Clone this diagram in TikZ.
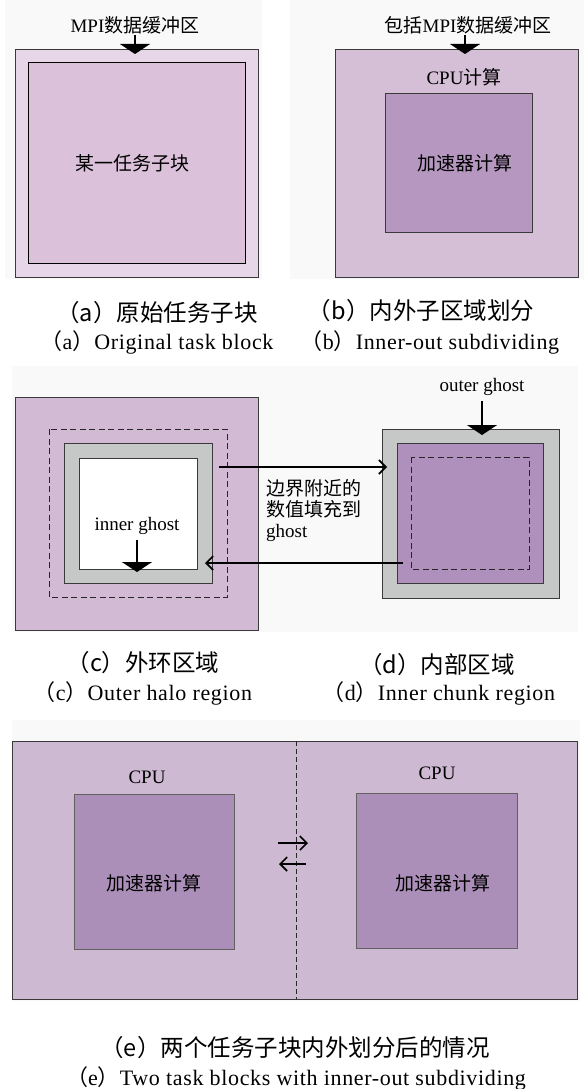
\documentclass[tikz,border=0pt]{standalone}
\usepackage{fontspec}
\setmainfont{Liberation Serif}
\newfontfamily\capfont[LetterSpace=3]{Liberation Serif}
\newfontfamily\cjk{Noto Sans CJK SC}
\usetikzlibrary{arrows.meta}
\definecolor{bgc}{HTML}{F9F9F9}
\definecolor{bordc}{HTML}{3A3A3A}
\definecolor{aout}{HTML}{E7D6E7}
\definecolor{ain}{HTML}{DCC1DA}
\definecolor{bout}{HTML}{D5BFD7}
\definecolor{bin}{HTML}{B597C0}
\definecolor{cout}{HTML}{D2BAD5}
\definecolor{ghostg}{HTML}{C6C8C7}
\definecolor{dmid}{HTML}{AF8FBB}
\definecolor{eout}{HTML}{CEB9D2}
\definecolor{ein}{HTML}{AC8FB9}
\newcommand{\zh}[1]{{\cjk #1}}
\begin{document}
\begin{tikzpicture}[x=1pt,y=-1pt,
  box/.style={draw=bordc, line width=1.3pt, inner sep=0pt, anchor=north west},
  lbl/.style={font=\fontsize{19}{21}\selectfont, inner sep=0pt},
  captxt/.style={font=\fontsize{23.5}{25}\selectfont, inner sep=0pt},
  capen/.style={font=\fontsize{22}{24}\selectfont\capfont, inner sep=0pt},
  fat/.style={line width=1.6pt, -{Triangle[width=30pt,length=10pt]}},
  harrow/.style={line width=1.6pt, -{Straight Barb[length=7pt,width=14pt]}},
  dsh/.style={draw=black!85, line width=1pt, dash pattern=on 6pt off 3.5pt}]
\useasboundingbox (0,0) rectangle (586,1089);
\fill[white] (0,0) rectangle (586,1089);
% backgrounds
\fill[bgc] (5,0) rectangle (262,279);
\fill[bgc] (290,0) rectangle (584,279);
\fill[bgc] (12,366) rectangle (578,632);
\fill[bgc] (12,720) rectangle (580,1001);

% ---------- panel (a)
\node[box, fill=aout, minimum width=243pt, minimum height=228pt] (aOuter) at (15,49) {};
\node[box, draw=black, fill=ain, minimum width=217pt, minimum height=201pt] (aInner) at (28,62) {};
\node[lbl] (aMPI) at (135,25) {MPI\zh{数据缓冲区}};
\node[lbl] (aTask) at (132,163) {\zh{某一任务子块}};
\coordinate (aS) at (135,35);
\coordinate (aT) at (135,54);
\draw[fat] (aS) -- (aT);

% ---------- panel (b)
\node[box, fill=bout, minimum width=243pt, minimum height=228pt] (bOuter) at (335,49) {};
\node[box, fill=bin, minimum width=147pt, minimum height=139pt] (bInner) at (385,93) {};
\node[lbl] (bMPI) at (468,25) {\zh{包括}MPI\zh{数据缓冲区}};
\node[lbl] (bCPU) at (464,77) {CPU\zh{计算}};
\node[lbl] (bAcc) at (465,163) {\zh{加速器计算}};
\coordinate (bS) at (465,35);
\coordinate (bT) at (465,54);
\draw[fat] (bS) -- (bT);

% captions a/b
\node[captxt] (capAzh) at (157,313) {\zh{（a）原始任务子块}};
\node[captxt] (capBzh) at (421,311) {\zh{（b）内外子区域划分}};
\node[capen] (capAen) at (157,342) {\zh{（}a\zh{）}Original task block};
\node[capen] (capBen) at (430,342) {\zh{（}b\zh{）}Inner-out subdividing};

% ---------- panel (c)
\node[box, fill=cout, minimum width=243pt, minimum height=233pt] (cOuter) at (15,397) {};
\draw[dsh] (49,429) rectangle (227,597);
\node[box, fill=ghostg, minimum width=148pt, minimum height=140pt] (cGhost) at (64,443) {};
\node[box, fill=white, minimum width=118pt, minimum height=111pt] (cInner) at (79,458) {};
\node[lbl] (cInG) at (137,526) {inner ghost};
\coordinate (cS) at (137,540);
\coordinate (cT) at (137,572);
\draw[fat] (cS) -- (cT);

% ---------- panel (d)
\node[box, fill=ghostg, minimum width=177pt, minimum height=169pt] (dGhost) at (382,429) {};
\node[box, fill=dmid, minimum width=146pt, minimum height=140pt] (dInner) at (397,443) {};
\draw[dsh] (411,457) rectangle (529,569);
\node[lbl] (dOutG) at (482,387) {outer ghost};
\coordinate (dS) at (482,401);
\coordinate (dT) at (482,435);
\draw[fat] (dS) -- (dT);

% exchange arrows c <-> d
\coordinate (r1) at (219,467);
\coordinate (r2) at (387,467);
\coordinate (l1) at (403,563);
\coordinate (l2) at (205,563);
\draw[harrow] (r1) -- (r2);
\draw[harrow] (l1) -- (l2);
\node[lbl, anchor=west, align=left] (fillTxt) at (266,511)
  {\zh{边界附近的}\\\zh{数值填充到}\\ghost};

% captions c/d
\node[captxt] (capCzh) at (143,663) {\zh{（c）外环区域}};
\node[captxt] (capDzh) at (437,665) {\zh{（d）内部区域}};
\node[capen] (capCen) at (143,693) {\zh{（}c\zh{）}Outer halo region};
\node[capen] (capDen) at (439,693) {\zh{（}d\zh{）}Inner chunk region};

% ---------- panel (e)
\node[box, fill=eout, minimum width=565pt, minimum height=258pt] (eOuter) at (12,741) {};
\coordinate (eTop) at (296,741);
\coordinate (eBot) at (296,999);
\draw[dsh, dash pattern=on 5pt off 3pt] (eTop) -- (eBot);
\node[box, draw=bordc!80, line width=1pt, fill=ein, minimum width=160pt, minimum height=155pt] (eL) at (74,794) {};
\node[box, draw=bordc!80, line width=1pt, fill=ein, minimum width=161pt, minimum height=155pt] (eR) at (356,793) {};
\node[lbl] (eCPUl) at (147,777) {CPU};
\node[lbl] (eCPUr) at (437,773) {CPU};
\node[lbl] (eAccL) at (154,883) {\zh{加速器计算}};
\node[lbl] (eAccR) at (443,883) {\zh{加速器计算}};
\coordinate (e1) at (278,843);
\coordinate (e2) at (308,843);
\coordinate (e3) at (306,864);
\coordinate (e4) at (279,864);
\draw[harrow] (e1) -- (e2);
\draw[harrow] (e3) -- (e4);

% captions e
\node[captxt] (capEzh) at (295,1048) {\zh{（e）两个任务子块内外划分后的情况}};
\node[capen] (capEen) at (296,1078) {\zh{（}e\zh{）}Two task blocks with inner-out subdividing};
\end{tikzpicture}
\end{document}
